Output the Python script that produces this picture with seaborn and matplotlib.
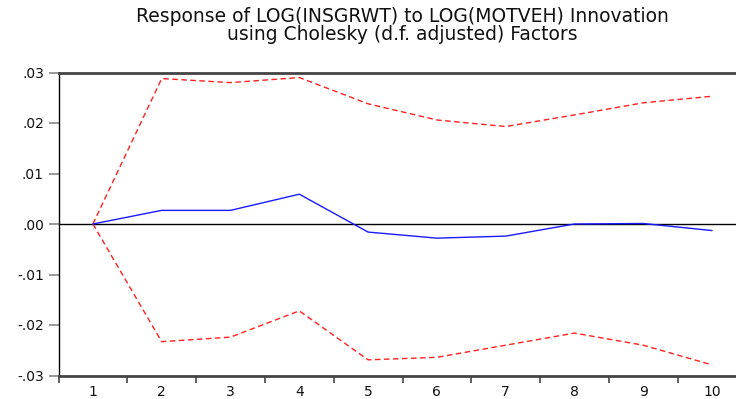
import matplotlib

matplotlib.use("Agg")

import numpy as np
import pandas as pd
import matplotlib.pyplot as plt
import seaborn as sns
from matplotlib.ticker import FuncFormatter

# impulse response values
periods = [1, 2, 3, 4, 5, 6, 7, 8, 9, 10]
response = [0.0, 0.0027, 0.0027, 0.0059, -0.0016, -0.0028, -0.0024, 0.0000, 0.0001, -0.0013]
upper_band = [0.0, 0.0288, 0.0280, 0.0290, 0.0238, 0.0206, 0.0193, 0.0216, 0.0240, 0.0253]
lower_band = [0.0, -0.0233, -0.0224, -0.0172, -0.0269, -0.0264, -0.0240, -0.0216, -0.0240, -0.0279]

y_ticks = [-0.03, -0.02, -0.01, 0.0, 0.01, 0.02, 0.03]

title_lines = ["Response of LOG(INSGRWT) to LOG(MOTVEH) Innovation",
               "using Cholesky (d.f. adjusted) Factors"]


def fmt_tick(v, _pos):
    s = f"{v:.2f}"
    return s.replace("0.", ".")


def main() -> None:
    sns.set_theme(style="white")
    plt.rcParams["font.family"] = ["DejaVu Sans"]

    df = pd.DataFrame({
        "period": periods,
        "response": response,
        "upper": upper_band,
        "lower": lower_band,
    })

    W, H = 736, 399
    fig = plt.figure(figsize=(W / 100, H / 100), dpi=100)
    left, right, top, bottom = 58.5, 746.5, 72.5, 375.5
    ax = fig.add_axes([left / W, 1 - bottom / H, (right - left) / W, (bottom - top) / H])

    ax.axhline(0, color="black", linewidth=1.0, zorder=1)
    sns.lineplot(data=df, x="period", y="upper", ax=ax, color="#ff2020",
                 linewidth=1.0, linestyle=(0, (4, 2.5)))
    sns.lineplot(data=df, x="period", y="lower", ax=ax, color="#ff2020",
                 linewidth=1.0, linestyle=(0, (4, 2.5)))
    sns.lineplot(data=df, x="period", y="response", ax=ax, color="#1a1aff",
                 linewidth=1.0)

    ax.set_xlim(0.5, 10.5)
    ax.set_ylim(-0.03, 0.03)
    ax.set_yticks(y_ticks)
    ax.yaxis.set_major_formatter(FuncFormatter(fmt_tick))
    ax.set_xticks(periods)
    ax.set_xticks(np.arange(0.5, 11, 1.0), minor=True)
    ax.tick_params(axis="x", which="major", length=0, pad=6.5, labelsize=10,
                   labelcolor="#111111")
    ax.tick_params(axis="x", which="minor", length=5, width=1.2, color="#444444",
                   direction="out", bottom=True)
    ax.tick_params(axis="y", which="major", length=7, width=1.2, color="#888888",
                   direction="out", left=True, labelsize=10, pad=3.5,
                   labelcolor="#111111")
    ax.set_xlabel("")
    ax.set_ylabel("")

    ax.spines["right"].set_visible(False)
    ax.spines["left"].set_color("black")
    ax.spines["left"].set_linewidth(1.0)
    ax.spines["top"].set_color("#444444")
    ax.spines["top"].set_linewidth(2.0)
    ax.spines["bottom"].set_color("#444444")
    ax.spines["bottom"].set_linewidth(2.0)

    fig.text(402 / W, 1 - 22 / H, title_lines[0], ha="center", va="baseline",
             fontsize=13.5, color="#111111")
    fig.text(402 / W, 1 - 40 / H, title_lines[1], ha="center", va="baseline",
             fontsize=13.5, color="#111111")

    fig.savefig("out.png", dpi=100)
    plt.close(fig)


if __name__ == "__main__":
    main()
